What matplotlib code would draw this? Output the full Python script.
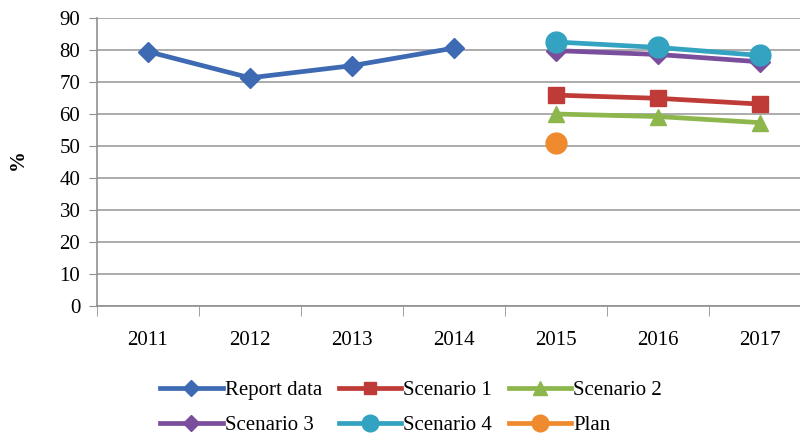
import numpy as np
import matplotlib
matplotlib.use("Agg")
import matplotlib.pyplot as plt

plt.rcParams['font.family'] = ['Liberation Serif', 'DejaVu Serif']

years = ['2011', '2012', '2013', '2014', '2015', '2016', '2017']
nan = np.nan
report_data = [79.5, 71.3, 75.1, 80.6, nan, nan, nan]
scenario1 = [nan, nan, nan, nan, 65.9, 64.9, 63.1]
scenario2 = [nan, nan, nan, nan, 60.0, 59.2, 57.3]
scenario3 = [nan, nan, nan, nan, 79.8, 78.6, 76.3]
scenario4 = [nan, nan, nan, nan, 82.5, 80.8, 78.3]
plan = [nan, nan, nan, nan, 50.8, nan, nan]
y_ticks = [0, 10, 20, 30, 40, 50, 60, 70, 80, 90]

fig = plt.figure(figsize=(8, 4.4), dpi=100)
ax = fig.add_axes([97/800, 1 - 306/440, 714/800, 288/440])
x = np.arange(len(years))

lw = 3.4
series = [
    ('Report data', report_data, '#3D6AB2', 'D', 10),
    ('Scenario 1', scenario1, '#BE3B37', 's', 11),
    ('Scenario 2', scenario2, '#8DB64C', '^', 12),
    ('Scenario 3', scenario3, '#7A4E9C', 'D', 10),
    ('Scenario 4', scenario4, '#33A3C1', 'o', 15),
    ('Plan', plan, '#F08A2E', 'o', 15),
]
handles = {}
for name, vals, col, mk, ms in series:
    h, = ax.plot(x, vals, color=col, lw=lw, marker=mk, markersize=ms,
                 markeredgecolor=col, label=name, zorder=3)
    handles[name] = h

ax.set_xlim(-0.5, 6.5)
ax.set_ylim(0, 90)
ax.set_yticks(y_ticks)
ax.set_yticklabels([str(v) for v in y_ticks], fontsize=15)
ax.yaxis.grid(True, color='#ABABAB', lw=1.4)
ax.set_axisbelow(True)
ax.set_xticks(x)
ax.set_xticklabels(years, fontsize=15)
ax.set_xticks(np.arange(-0.5, 7.0, 1.0), minor=True)
ax.tick_params(axis='x', which='major', length=0, pad=18)
ax.tick_params(axis='x', which='minor', length=7, color='#909090', direction='out')
ax.tick_params(axis='y', length=6, color='#909090', pad=6)
for s in ['top', 'right']:
    ax.spines[s].set_visible(False)
for s in ['left', 'bottom']:
    ax.spines[s].set_color('#909090')
    ax.spines[s].set_linewidth(1.2)

fig.text(18/800, 1 - 160/440, '%', rotation=90, fontsize=15, fontweight='bold',
         ha='center', va='center')

order = ['Report data', 'Scenario 3', 'Scenario 1', 'Scenario 4', 'Scenario 2', 'Plan']
leg = fig.legend([handles[n] for n in order], order, ncol=3, loc='center',
                 bbox_to_anchor=(411/800, 1 - 408/440), frameon=False, fontsize=15,
                 handlelength=3.0, handletextpad=0.1, columnspacing=0.8,
                 labelspacing=0.75, markerscale=0.8, borderpad=0.2)

fig.savefig('out.png', dpi=100)
